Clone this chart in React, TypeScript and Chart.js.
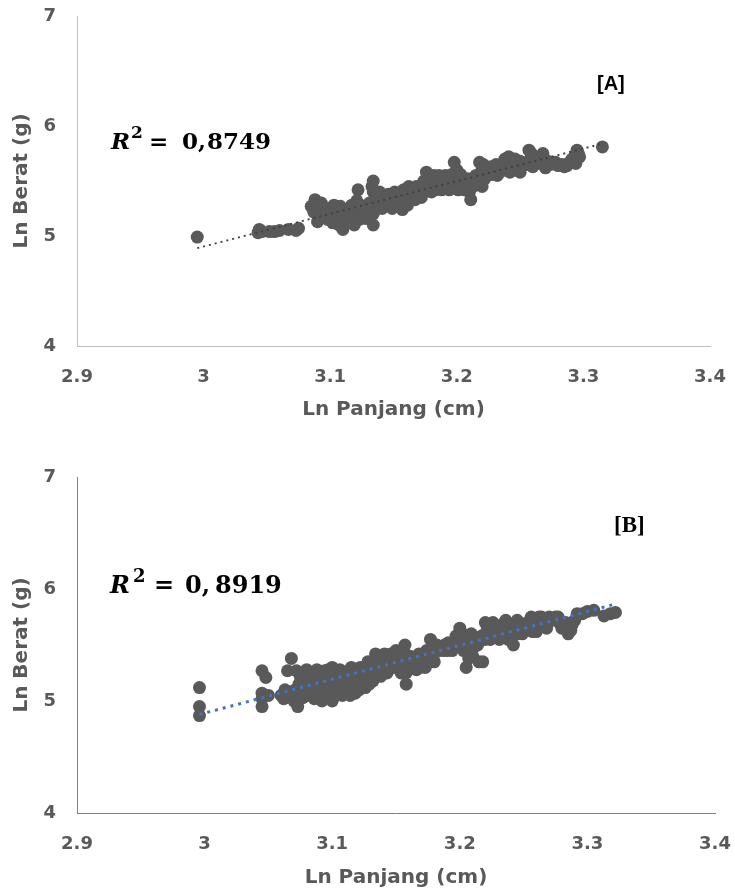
import React, { useEffect, useRef } from "react";
import { Chart, registerables } from "chart.js";

Chart.register(...registerables);

// ---------- shared axis data ----------
const xTickValues = [2.9, 3, 3.1, 3.2, 3.3, 3.4];
const yTickValues = [4, 5, 6, 7];
const xAxisTitle = "Ln Panjang (cm)";
const yAxisTitle = "Ln Berat (g)";

// ---------- panel A ----------
const panelLabelA = "[A]";
const r2ValueA = "0,";
const r2DigitsA = "8749";
const lnPanjangA = [
  2.995,
  3.043, 3.044, 3.046, 3.052, 3.056, 3.06, 3.067, 3.075, 3.073,
  3.085, 3.088, 3.09, 3.09, 3.092, 3.095,
  3.098, 3.1, 3.1, 3.102, 3.105, 3.106, 3.108, 3.11, 3.11, 3.112, 3.115, 3.115, 3.118, 3.12, 3.122, 3.124, 3.126, 3.128, 3.13,
  3.134, 3.134, 3.134, 3.134, 3.134, 3.136,
  3.14, 3.142, 3.145, 3.148, 3.15, 3.152, 3.155, 3.157, 3.158, 3.16, 3.162, 3.165, 3.167, 3.168, 3.17, 3.172,
  3.176, 3.178, 3.18, 3.18, 3.182, 3.185, 3.188, 3.19, 3.192, 3.195, 3.198, 3.2, 3.2, 3.202, 3.205, 3.207, 3.21, 3.211, 3.212,
  3.215, 3.218, 3.22, 3.22, 3.222, 3.225, 3.228, 3.23, 3.232, 3.235, 3.238, 3.24, 3.242, 3.245, 3.247, 3.25, 3.25,
  3.257, 3.258, 3.26, 3.262, 3.268, 3.27, 3.272,
  3.276, 3.28, 3.285, 3.288, 3.29, 3.293, 3.295, 3.296,
  3.315,
  3.087, 3.093, 3.097, 3.103, 3.107, 3.109, 3.113, 3.117, 3.119, 3.121, 3.123, 3.127, 3.129, 3.131, 3.133, 3.133, 3.137, 3.139, 3.141, 3.143,
  3.146, 3.149, 3.151, 3.153, 3.156, 3.159, 3.161, 3.163, 3.166, 3.169, 3.171, 3.173, 3.174, 3.177, 3.179, 3.181, 3.183, 3.186, 3.189, 3.191,
  3.194, 3.196, 3.199, 3.201, 3.203, 3.206, 3.209, 3.213, 3.216, 3.219, 3.221, 3.224, 3.227, 3.229, 3.231, 3.234, 3.237, 3.239, 3.241, 3.243,
  3.246, 3.248, 3.251, 3.256, 3.259, 3.261, 3.264, 3.266, 3.269, 3.274, 3.278, 3.283, 3.287, 3.291, 3.294, 3.297,
];
const lnBeratA = [
  4.99,
  5.03, 5.06, 5.04, 5.04, 5.04, 5.05, 5.06, 5.07, 5.05,
  5.27, 5.33, 5.2, 5.13, 5.25, 5.18,
  5.15, 5.25, 5.2, 5.12, 5.22, 5.17, 5.27, 5.06, 5.1, 5.2, 5.25, 5.15, 5.18, 5.22, 5.42, 5.28, 5.2, 5.16, 5.24,
  5.5, 5.4, 5.3, 5.2, 5.1, 5.35,
  5.3, 5.37, 5.33, 5.28, 5.35, 5.3, 5.38, 5.24, 5.42, 5.33, 5.45, 5.38, 5.33, 5.45, 5.4, 5.35,
  5.58, 5.5, 5.4, 5.45, 5.55, 5.48, 5.42, 5.5, 5.45, 5.48, 5.67, 5.6, 5.52, 5.45, 5.5, 5.47, 5.4, 5.33, 5.5,
  5.55, 5.67, 5.6, 5.45, 5.52, 5.6, 5.56, 5.6, 5.55, 5.62, 5.7, 5.66, 5.58, 5.65, 5.6, 5.58, 5.68,
  5.78, 5.7, 5.63, 5.68, 5.75, 5.62, 5.68,
  5.66, 5.64, 5.63, 5.66, 5.67, 5.72, 5.78, 5.75,
  5.81,
  5.22, 5.3, 5.22, 5.28, 5.1, 5.24, 5.12, 5.28, 5.1, 5.32, 5.15, 5.26, 5.2, 5.3, 5.45, 5.25, 5.25, 5.4, 5.25, 5.32,
  5.38, 5.25, 5.4, 5.35, 5.3, 5.36, 5.28, 5.4, 5.42, 5.36, 5.45, 5.42, 5.5, 5.44, 5.55, 5.5, 5.42, 5.55, 5.46, 5.55,
  5.42, 5.56, 5.5, 5.42, 5.56, 5.42, 5.52, 5.45, 5.5, 5.55, 5.65, 5.55, 5.63, 5.58, 5.65, 5.58, 5.65, 5.6, 5.72, 5.62,
  5.7, 5.63, 5.63, 5.65, 5.75, 5.68, 5.66, 5.7, 5.68, 5.65, 5.67, 5.65, 5.64, 5.7, 5.66, 5.72,
];
const trendXA = [2.995, 3.315];
const trendYA = [4.89, 5.84];

// ---------- panel B ----------
const panelLabelB = "[B]";
const r2ValueB = "0,";
const r2DigitsB = "8919";
const lnPanjangB = [
  2.996, 2.996, 2.996,
  3.045, 3.048, 3.045, 3.045, 3.045, 3.05,
  3.06, 3.062, 3.065, 3.068, 3.07, 3.073, 3.072, 3.075, 3.075,
  3.078, 3.08, 3.082, 3.085, 3.086, 3.088, 3.09, 3.09, 3.092, 3.094, 3.095, 3.096, 3.098, 3.1, 3.1, 3.1, 3.102, 3.104, 3.105,
  3.108, 3.11, 3.112, 3.115, 3.116, 3.118, 3.12, 3.122, 3.124, 3.126, 3.128, 3.13, 3.132,
  3.134, 3.136, 3.138, 3.14, 3.142, 3.145, 3.148, 3.15, 3.152, 3.155, 3.157, 3.158, 3.16, 3.158,
  3.163, 3.166, 3.168, 3.17, 3.173, 3.175, 3.177, 3.18, 3.18, 3.183,
  3.188, 3.19, 3.193, 3.196, 3.2, 3.2, 3.202, 3.205, 3.205, 3.208, 3.21, 3.212, 3.215, 3.218,
  3.22, 3.22, 3.223, 3.225, 3.228, 3.23, 3.233, 3.235, 3.238, 3.24, 3.242, 3.245, 3.245,
  3.25, 3.253, 3.256, 3.258, 3.26, 3.262, 3.265, 3.268, 3.27,
  3.275, 3.278, 3.282, 3.285, 3.288, 3.292, 3.3, 3.305,
  3.313, 3.318, 3.322,
  3.063, 3.067, 3.071, 3.074, 3.077, 3.079, 3.081, 3.083, 3.084, 3.087, 3.089, 3.091, 3.093, 3.095, 3.097, 3.099, 3.101, 3.103, 3.103, 3.106,
  3.107, 3.109, 3.111, 3.113, 3.114, 3.117, 3.119, 3.121, 3.123, 3.125, 3.127, 3.129, 3.131, 3.133, 3.135, 3.137, 3.139, 3.141, 3.143, 3.144,
  3.146, 3.149, 3.151, 3.153, 3.154, 3.156, 3.159, 3.161, 3.164, 3.167, 3.169, 3.171, 3.174, 3.176, 3.178, 3.179, 3.182, 3.185, 3.187, 3.191,
  3.194, 3.197, 3.199, 3.201, 3.203, 3.206, 3.207, 3.209, 3.211, 3.214, 3.217, 3.221, 3.224, 3.226, 3.229, 3.231, 3.234, 3.236, 3.239, 3.241,
  3.243, 3.247, 3.249, 3.252, 3.255, 3.257, 3.259, 3.261, 3.264, 3.267, 3.272, 3.277, 3.28, 3.283, 3.287, 3.29, 3.296,
];
const lnBeratB = [
  5.12, 4.95, 4.87,
  5.27, 5.21, 5.07, 5.02, 4.95, 5.05,
  5.05, 5.02, 5.27, 5.38, 5.0, 4.95, 5.27, 5.22, 5.05,
  5.1, 5.28, 5.05, 5.15, 5.02, 5.28, 5.2, 5.08, 5.0, 5.27, 5.12, 5.04, 5.22, 5.3, 5.16, 5.0, 5.08, 5.25, 5.12,
  5.05, 5.2, 5.1, 5.3, 5.15, 5.07, 5.22, 5.3, 5.18, 5.12, 5.35, 5.25, 5.18,
  5.42, 5.3, 5.22, 5.35, 5.28, 5.38, 5.3, 5.45, 5.32, 5.4, 5.5, 5.15, 5.3, 5.25,
  5.35, 5.28, 5.42, 5.35, 5.3, 5.4, 5.55, 5.5, 5.35, 5.45,
  5.5, 5.45, 5.48, 5.52, 5.65, 5.55, 5.6, 5.5, 5.3, 5.45, 5.4, 5.55, 5.35, 5.35,
  5.7, 5.55, 5.62, 5.65, 5.58, 5.6, 5.68, 5.62, 5.55, 5.68, 5.5, 5.72, 5.6,
  5.65, 5.7, 5.75, 5.68, 5.62, 5.75, 5.7, 5.65, 5.75,
  5.75, 5.7, 5.65, 5.6, 5.68, 5.78, 5.8, 5.81,
  5.76, 5.78, 5.79,
  5.1, 5.05, 5.1, 5.15, 5.03, 5.22, 5.15, 5.25, 5.08, 5.2, 5.12, 5.25, 5.06, 5.2, 5.28, 5.1, 5.22, 5.05, 5.16, 5.28,
  5.18, 5.1, 5.25, 5.18, 5.05, 5.22, 5.15, 5.1, 5.25, 5.2, 5.28, 5.15, 5.3, 5.22, 5.35, 5.25, 5.3, 5.42, 5.25, 5.32,
  5.42, 5.35, 5.3, 5.38, 5.25, 5.45, 5.35, 5.4, 5.3, 5.36, 5.3, 5.4, 5.45, 5.35, 5.45, 5.4, 5.5, 5.48, 5.45, 5.52,
  5.45, 5.58, 5.5, 5.6, 5.45, 5.55, 5.38, 5.6, 5.48, 5.5, 5.58, 5.62, 5.55, 5.7, 5.65, 5.55, 5.6, 5.72, 5.62, 5.58,
  5.65, 5.68, 5.6, 5.65, 5.7, 5.62, 5.72, 5.7, 5.75, 5.7, 5.72, 5.75, 5.65, 5.7, 5.63, 5.72, 5.78,
];
const trendXB = [2.996, 3.32];
const trendYB = [4.88, 5.86];

type TextPiece = { text: string; x: number; y: number; font: string; color: string };

type PanelProps = {
  top: number;
  height: number;
  xs: number[];
  ys: number[];
  trendX: number[];
  trendY: number[];
  trendColor: string;
  trendWidth: number;
  trendDash: number[];
  axisColor: string;
  padTop: number;
  padRight: number;
  xScaleHeight: number;
  xTitlePadBottom: number;
  pieces: TextPiece[];
};

const GRAY = "#595959";

function zeroPadding(s: any) {
  s.paddingLeft = 0;
  s.paddingRight = 0;
  s.paddingTop = 0;
  s.paddingBottom = 0;
}

function Panel(p: PanelProps) {
  const ref = useRef<HTMLCanvasElement | null>(null);
  useEffect(() => {
    if (!ref.current) return;
    const textPlugin = {
      id: "textOverlay",
      afterDraw(chart: any) {
        const ctx = chart.ctx;
        ctx.save();
        ctx.textBaseline = "alphabetic";
        ctx.textAlign = "left";
        for (const t of p.pieces) {
          ctx.font = t.font;
          ctx.fillStyle = t.color;
          ctx.fillText(t.text, t.x, t.y);
        }
        ctx.restore();
      },
    };
    const tickFont = { family: "'DejaVu Sans', sans-serif", weight: "bold" as const, size: 18 };
    const titleFont = { family: "'DejaVu Sans', sans-serif", weight: "bold" as const, size: 20 };
    const n = Math.min(p.xs.length, p.ys.length);
    const pts = [];
    for (let i = 0; i < n; i++) pts.push({ x: p.xs[i], y: p.ys[i] });
    const chart = new Chart(ref.current, {
      type: "scatter",
      data: {
        datasets: [
          {
            type: "line",
            data: p.trendX.map((x, i) => ({ x, y: p.trendY[i] })),
            borderColor: p.trendColor,
            borderWidth: p.trendWidth,
            borderDash: p.trendDash,
            pointRadius: 0,
            fill: false,
            order: 0,
          } as any,
          {
            data: pts,
            backgroundColor: GRAY,
            borderColor: GRAY,
            borderWidth: 0,
            pointRadius: 6.5,
            order: 1,
          },
        ],
      },
      options: {
        responsive: false,
        animation: false,
        devicePixelRatio: 1,
        layout: { padding: { top: p.padTop, right: p.padRight, left: 0, bottom: 0 } },
        plugins: { legend: { display: false }, tooltip: { enabled: false } },
        scales: {
          x: {
            type: "linear",
            min: 2.9,
            max: 3.4,
            afterBuildTicks: (s: any) => {
              s.ticks = xTickValues.map((v) => ({ value: v }));
            },
            afterFit: (s: any) => {
              s.height = p.xScaleHeight;
              zeroPadding(s);
            },
            ticks: {
              color: GRAY,
              font: tickFont,
              padding: 21,
              maxRotation: 0,
              autoSkip: false,
              callback: (v: any) => String(v),
            },
            grid: { display: false, drawTicks: false },
            border: { display: true, color: p.axisColor, width: 1 },
            title: {
              display: true,
              text: xAxisTitle,
              color: GRAY,
              font: titleFont,
              padding: { top: 0, bottom: p.xTitlePadBottom },
            },
          },
          y: {
            type: "linear",
            min: 4,
            max: 7,
            afterBuildTicks: (s: any) => {
              s.ticks = yTickValues.map((v) => ({ value: v }));
            },
            afterFit: (s: any) => {
              s.width = 77;
              zeroPadding(s);
            },
            ticks: {
              color: GRAY,
              font: tickFont,
              padding: 21,
              callback: (v: any) => String(v),
            },
            grid: { display: false, drawTicks: false },
            border: { display: true, color: p.axisColor, width: 1 },
            title: {
              display: true,
              text: yAxisTitle,
              color: GRAY,
              font: titleFont,
              padding: { top: 10, bottom: 0 },
            },
          },
        },
      },
      plugins: [textPlugin],
    });
    return () => chart.destroy();
  }, []);
  return (
    <canvas
      ref={ref}
      width={735}
      height={p.height}
      style={{ position: "absolute", left: 0, top: p.top, width: 735, height: p.height }}
    />
  );
}

function r2Pieces(baseX: number, baseY: number, size: number, value: string, digits: string, dx: number[]): TextPiece[] {
  const serif = "'DejaVu Serif', serif";
  return [
    { text: "R", x: baseX, y: baseY, font: `italic bold ${size}px ${serif}`, color: "#000" },
    { text: "2", x: baseX + dx[0], y: baseY - 11, font: `bold ${Math.round(size * 0.75)}px ${serif}`, color: "#000" },
    { text: "=", x: baseX + dx[1], y: baseY, font: `bold ${size}px ${serif}`, color: "#000" },
    { text: value, x: baseX + dx[2], y: baseY, font: `bold ${size}px ${serif}`, color: "#000" },
    { text: digits, x: baseX + dx[3], y: baseY, font: `bold ${size}px ${serif}`, color: "#000" },
  ];
}

export default function App() {
  const piecesA: TextPiece[] = [
    ...r2Pieces(111, 149, 23, r2ValueA, r2DigitsA, [20, 38, 71, 96]),
    { text: panelLabelA, x: 597, y: 90, font: "bold 20px 'Liberation Sans', Arial, sans-serif", color: "#000" },
  ];
  const piecesB: TextPiece[] = [
    ...r2Pieces(110, 593 - 440, 24, r2ValueB, r2DigitsB, [23, 44, 75, 105]),
    { text: panelLabelB, x: 614, y: 532 - 440, font: "bold 23px 'Liberation Serif', serif", color: "#000" },
  ];
  return (
    <div style={{ position: "absolute", left: 0, top: 0, width: 735, height: 893, background: "#fff" }}>
      <Panel
        top={0}
        height={440}
        xs={lnPanjangA}
        ys={lnBeratA}
        trendX={trendXA}
        trendY={trendYA}
        trendColor="#404040"
        trendWidth={2}
        trendDash={[2, 4]}
        axisColor="#bfbfbf"
        padTop={16}
        padRight={25}
        xScaleHeight={94}
        xTitlePadBottom={18}
        pieces={piecesA}
      />
      <Panel
        top={440}
        height={453}
        xs={lnPanjangB}
        ys={lnBeratB}
        trendX={trendXB}
        trendY={trendYB}
        trendColor="#4472c4"
        trendWidth={3}
        trendDash={[3, 5]}
        axisColor="#7f7f7f"
        padTop={37}
        padRight={20}
        xScaleHeight={80}
        xTitlePadBottom={3}
        pieces={piecesB}
      />
    </div>
  );
}
